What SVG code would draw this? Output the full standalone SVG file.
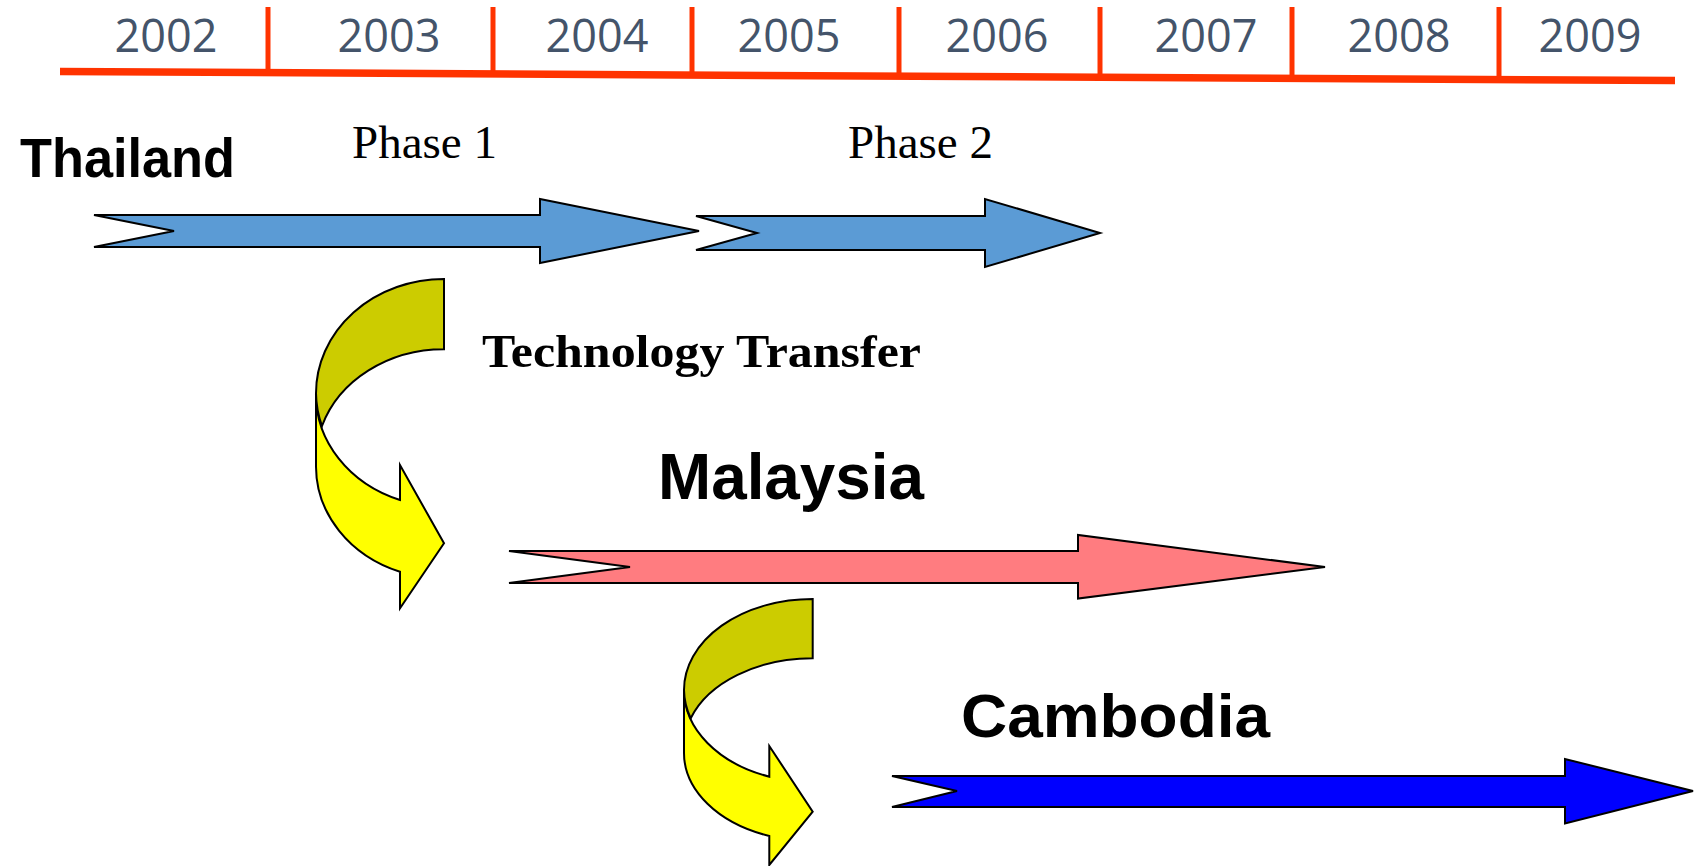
<svg xmlns="http://www.w3.org/2000/svg" width="1700" height="866" viewBox="0 0 1700 866">
<style>
.year{font-family:"Open Sans","Liberation Sans",sans-serif;font-size:45px;fill:#44546A;text-anchor:middle}
.tick{stroke:#FF3300;stroke-width:5}
.country{font-family:"Liberation Sans",Arial,sans-serif;font-weight:bold;fill:#000}
.phase{font-family:"Liberation Serif","Times New Roman",serif;font-size:47px;fill:#000}
.arrow{stroke:#000;stroke-width:2;stroke-linejoin:miter}
.back{fill:#CCCC00;stroke:#000;stroke-width:2}
.front{fill:#FFFF00;stroke:#000;stroke-width:2}
</style>
<rect width="1700" height="866" fill="#fff"/>
<g id="timeline">
<line x1="60" y1="71.5" x2="1675" y2="80.5" stroke="#FF3300" stroke-width="7.5"/>
<line class="tick" x1="268" y1="7" x2="268" y2="70"/>
<line class="tick" x1="493" y1="7" x2="493" y2="71"/>
<line class="tick" x1="692" y1="7" x2="692" y2="72"/>
<line class="tick" x1="899" y1="7" x2="899" y2="73"/>
<line class="tick" x1="1100" y1="7" x2="1100" y2="74"/>
<line class="tick" x1="1292" y1="7" x2="1292" y2="75"/>
<line class="tick" x1="1499" y1="7" x2="1499" y2="76"/>
<text class="year" x="166" y="52">2002</text>
<text class="year" x="389" y="52">2003</text>
<text class="year" x="597" y="52">2004</text>
<text class="year" x="789" y="52">2005</text>
<text class="year" x="997" y="52">2006</text>
<text class="year" x="1206" y="52">2007</text>
<text class="year" x="1399" y="52">2008</text>
<text class="year" x="1590" y="52">2009</text>
</g>
<g id="thailand">
<text class="country" x="20" y="177" font-size="56" textLength="215" lengthAdjust="spacingAndGlyphs">Thailand</text>
<text class="phase" x="352" y="158">Phase 1</text>
<text class="phase" x="848" y="158">Phase 2</text>
<path class="arrow" fill="#5B9BD5" d="M94 215 L540 215 L540 199 L699 231 L540 263 L540 247 L94 247 L174 231 Z"/>
<path class="arrow" fill="#5B9BD5" d="M696 216 L985 216 L985 199 L1100 233 L985 267 L985 250 L696 250 L757 233 Z"/>
</g>
<g id="transfer1">
<path class="front" d="M316 393.3 L316 466.7 A128 112 0 0 0 400 571.7 L400 608.3 L444 543.3 L400 465 L400 500 A128 112 0 0 1 316 393.3 Z"/>
<path class="back" d="M444 279 A128 114.3 0 0 0 316 393.3 A128 112 0 0 0 322 426 A128 110.7 0 0 1 444 349.3 Z"/>
<text x="482" y="367" font-family="'Liberation Serif','Times New Roman',serif" font-weight="bold" font-size="47" textLength="439" lengthAdjust="spacingAndGlyphs">Technology Transfer</text>
</g>
<g id="malaysia">
<text class="country" x="658" y="499" font-size="64" textLength="266" lengthAdjust="spacingAndGlyphs">Malaysia</text>
<path class="arrow" fill="#FF7C80" d="M509 551 L1078 551 L1078 535 L1325 567 L1078 598.5 L1078 583 L509 583 L630 567 Z"/>
</g>
<g id="transfer2">
<path class="front" d="M684 690 L684 753 A128.7 88.2 0 0 0 769.3 836 L769.3 865 L812.7 811.7 L769.3 746 L769.3 776.7 A128.7 92 0 0 1 684 690 Z"/>
<path class="back" d="M812.7 599 A128.7 91 0 0 0 684 690 A128.7 92 0 0 0 690.7 718.3 A128.7 88 0 0 1 812.7 658.3 Z"/>
</g>
<g id="cambodia">
<text class="country" x="961" y="737" font-size="62" textLength="309" lengthAdjust="spacingAndGlyphs">Cambodia</text>
<path class="arrow" fill="#0000FF" d="M892 776 L1565 776 L1565 759 L1693 791 L1565 823.5 L1565 807 L892 807 L957 791 Z"/>
</g>
</svg>
